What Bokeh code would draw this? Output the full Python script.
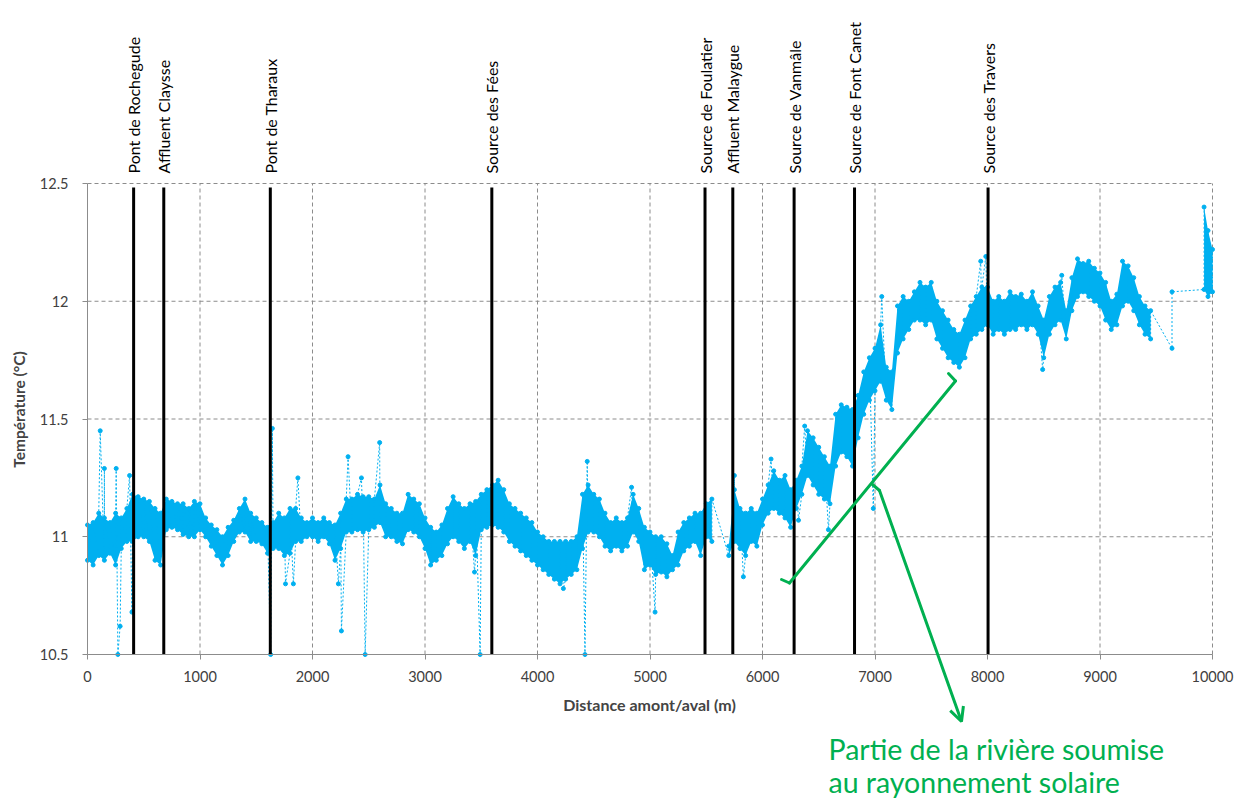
from math import pi
from bokeh.plotting import figure
from bokeh.models import (Range1d, Label, Arrow, OpenHead, FixedTicker,
                          NumeralTickFormatter, LinearAxis)
from bokeh.embed import file_html
from bokeh.resources import INLINE

# ---------------- data ----------------
# sampling positions along the river (m); gaps where no measurement exists
dist = (list(range(0, 5551, 50)) + list(range(5700, 9451, 50))
        + [9640, 9925, 9960, 10000])

# lower edge of the temperature band at each position (deg C)
temp_lo = [
    10.90, 10.88, 10.92, 10.90, 10.93, 10.88, 10.95, 10.98, 10.98, 11.00,
    11.00, 10.98, 10.90, 10.88, 11.03, 11.04, 11.03, 11.01, 11.00, 11.00,
    11.03, 11.00, 10.96, 10.92, 10.88, 10.92, 10.98, 11.02, 11.02, 10.98,
    10.98, 10.97, 10.93, 10.95, 10.95, 10.92, 10.93, 10.98, 10.98, 11.00,
    11.00, 10.98, 11.00, 10.97, 10.90, 10.95, 11.02, 11.02, 11.03, 11.02,
    11.03, 11.04, 11.06, 11.00, 11.00, 10.98, 10.97, 11.03, 11.02, 11.00,
    10.95, 10.88, 10.90, 10.92, 10.97, 11.00, 10.98, 10.95, 10.98, 10.92,
    11.03, 11.04, 11.05, 11.04, 11.02, 10.98, 10.96, 10.94, 10.92, 10.90,
    10.88, 10.86, 10.84, 10.82, 10.80, 10.82, 10.84, 10.86, 10.95, 11.02,
    11.02, 11.00, 10.96, 10.94, 10.96, 10.94, 10.96, 11.02, 10.98, 10.86,
    10.88, 10.84, 10.85, 10.83, 10.86, 10.88, 10.94, 10.96, 10.98, 10.92,
    11.00, 10.98,
    10.92, 10.98, 10.95, 10.92, 10.98, 10.96, 11.05, 11.10, 11.12, 11.10,
    11.08, 11.04, 11.12, 11.18, 11.26, 11.22, 11.18, 11.16, 11.14, 11.30,
    11.36, 11.34, 11.30, 11.42, 11.52, 11.58, 11.62, 11.66, 11.58, 11.54,
    11.78, 11.84, 11.88, 11.92, 11.92, 11.90, 11.92, 11.84, 11.80, 11.76,
    11.74, 11.72, 11.76, 11.84, 11.86, 11.88, 11.90, 11.86, 11.88, 11.86,
    11.88, 11.88, 11.90, 11.88, 11.90, 11.86, 11.76, 11.86, 11.90, 11.92,
    11.84, 11.96, 12.02, 12.04, 12.02, 12.00, 11.98, 11.92, 11.88, 11.90,
    11.98, 12.00, 11.96, 11.90, 11.86, 11.84,
    11.80, 12.05, 12.02, 12.04,
]

# upper edge of the temperature band at each position (deg C)
temp_hi = [
    11.05, 11.06, 11.10, 11.08, 11.06, 11.10, 11.08, 11.12, 11.18, 11.17,
    11.16, 11.15, 11.12, 11.10, 11.16, 11.15, 11.14, 11.14, 11.12, 11.15,
    11.14, 11.08, 11.05, 11.03, 11.00, 11.04, 11.07, 11.12, 11.16, 11.10,
    11.08, 11.06, 11.04, 11.06, 11.10, 11.08, 11.12, 11.12, 11.08, 11.06,
    11.08, 11.06, 11.08, 11.06, 11.05, 11.10, 11.16, 11.16, 11.18, 11.17,
    11.17, 11.16, 11.22, 11.14, 11.12, 11.10, 11.10, 11.18, 11.16, 11.14,
    11.08, 11.04, 11.02, 11.05, 11.12, 11.17, 11.14, 11.12, 11.14, 11.15,
    11.18, 11.20, 11.22, 11.24, 11.20, 11.14, 11.12, 11.10, 11.08, 11.06,
    11.02, 11.00, 10.98, 10.98, 10.98, 10.98, 10.98, 11.00, 11.18, 11.22,
    11.18, 11.16, 11.10, 11.06, 11.08, 11.06, 11.08, 11.18, 11.12, 11.04,
    11.02, 11.00, 11.00, 10.97, 10.92, 11.02, 11.06, 11.08, 11.10, 11.10,
    11.14, 11.16,
    10.96, 11.20, 11.12, 11.10, 11.12, 11.10, 11.16, 11.22, 11.28, 11.24,
    11.26, 11.20, 11.24, 11.30, 11.45, 11.42, 11.38, 11.34, 11.30, 11.52,
    11.56, 11.55, 11.54, 11.60, 11.70, 11.76, 11.80, 11.90, 11.72, 11.70,
    11.98, 12.02, 12.00, 12.04, 12.08, 12.06, 12.08, 12.00, 11.96, 11.92,
    11.88, 11.86, 11.92, 11.98, 12.02, 12.06, 12.06, 12.00, 12.02, 12.00,
    12.04, 12.02, 12.03, 12.00, 12.04, 11.98, 11.92, 12.02, 12.06, 12.08,
    11.96, 12.10, 12.18, 12.16, 12.17, 12.14, 12.12, 12.08, 12.00, 12.03,
    12.17, 12.15, 12.10, 12.02, 11.98, 11.96,
    12.04, 12.40, 12.30, 12.22,
]

# isolated excursions (spikes) of the series
spike_d = [113, 150, 255, 270, 290, 374, 395, 1628, 1643, 1760,
           1830, 1870, 2230, 2257, 2316, 2435, 2468, 2597, 3440, 3490,
           4230, 4422, 4442, 4836, 5045, 5750, 5830, 6076, 6320, 6375,
           6586, 6985, 7060, 7940, 7985, 8490, 8660]
spike_t = [11.45, 11.29, 11.29, 10.50, 10.62, 11.26, 10.68, 10.50, 11.46, 10.80,
           10.80, 11.25, 10.80, 10.60, 11.34, 11.25, 10.50, 11.40, 10.85, 10.50,
           10.78, 10.50, 11.32, 11.21, 10.68, 11.26, 10.83, 11.33, 11.07, 11.47,
           11.03, 11.12, 12.02, 12.17, 12.19, 11.71, 12.11]

# landmarks along the river
site_d = [410, 678, 1625, 3594, 5489, 5736, 6281, 6818, 8005]
site_names = ["Pont de Rochegude", "Affluent Claysse", "Pont de Tharaux",
              "Source des Fées", "Source de Foulatier", "Affluent Malaygue",
              "Source de Vanmâle", "Source de Font Canet", "Source des Travers"]

x_ticks = list(range(0, 10001, 1000))
y_ticks = [10.5, 11, 11.5, 12, 12.5]
x_min, x_max = 0, 10000
y_min, y_max = 10.5, 12.5

x_title = "Distance amont/aval (m)"
y_title = "Température (°C)"
note_text = ["Partie de la rivière soumise", "au rayonnement solaire"]

# ---------------- geometry / styles ----------------
BLUE = "#00B0F0"
GREEN = "#00B050"
GRID = "#8C8C8C"
FONT = "Lato"

PX_PER_M = 0.1125          # horizontal scale of the reference
PX_PER_DEG = 235.5         # vertical scale of the reference
CANVAS_X, CANVAS_Y = 1, 1  # where the canvas lands on the page
X0_PAGE, YTOP_PAGE = 88, 184
FRAME_TOP_PAGE = 175       # frame starts a little above 12.5 (room for its label)
FRAME_W = 1234
FRAME_H = 801 - FRAME_TOP_PAGE

def dx(px):   # page x -> distance
    return (px - X0_PAGE) / PX_PER_M

def dy(py):   # page y -> temperature
    return y_max - (py - YTOP_PAGE) / PX_PER_DEG

x_lo = dx(CANVAS_X)

p = figure(frame_width=FRAME_W, frame_height=FRAME_H,
           x_range=Range1d(x_lo, x_lo + FRAME_W / PX_PER_M),
           y_range=Range1d(dy(FRAME_TOP_PAGE + FRAME_H), dy(FRAME_TOP_PAGE)),
           output_backend="svg", toolbar_location=None,
           min_border_left=0, min_border_right=0,
           min_border_top=FRAME_TOP_PAGE - CANVAS_Y, min_border_bottom=0)
p.outline_line_color = None
p.background_fill_color = "white"

for ax in (p.xaxis[0], p.yaxis[0]):
    ax.axis_line_color = GRID
    ax.major_tick_line_color = GRID
    ax.major_tick_out = 5
    ax.major_tick_in = 0
    ax.minor_tick_line_color = None
    ax.major_label_text_font = FONT
    ax.major_label_text_font_size = "14.5px"
    ax.major_label_text_color = "#404040"

p.xaxis.ticker = FixedTicker(ticks=x_ticks)
p.xaxis.fixed_location = y_min
p.xaxis.bounds = (x_min, x_max)
p.xaxis.major_label_standoff = 11

p.yaxis.ticker = FixedTicker(ticks=y_ticks)
p.yaxis.fixed_location = x_min
p.yaxis.bounds = (y_min, y_max)
p.yaxis.formatter = NumeralTickFormatter(format="0.[0]")
p.yaxis.major_label_standoff = 14

# grid restricted to the data area
p.xgrid.visible = False
p.ygrid.visible = False
vx = [t for t in x_ticks if t > x_min]
p.segment(x0=vx, y0=[y_min] * len(vx), x1=vx, y1=[y_max] * len(vx),
          line_color=GRID, line_width=1, line_dash="4 3")
hy = [t for t in y_ticks if t > y_min]
p.segment(x0=[x_min] * len(hy), y0=hy, x1=[x_max] * len(hy), y1=hy,
          line_color=GRID, line_width=1, line_dash="4 3")

# landmark names as an axis on top
top = LinearAxis(ticker=FixedTicker(ticks=site_d),
                 major_label_overrides={d: n for d, n in zip(site_d, site_names)},
                 major_label_orientation=pi / 2,
                 axis_line_color=None, major_tick_line_color=None,
                 minor_tick_line_color=None, major_tick_out=0, major_tick_in=0,
                 major_label_standoff=1,
                 major_label_text_font=FONT, major_label_text_font_size="16px",
                 major_label_text_color="black")
p.add_layout(top, "above")

# axis titles
p.add_layout(Label(x=dx(650), y=dy(705), text=x_title, text_font=FONT,
                   text_font_style="bold", text_font_size="16px",
                   text_align="center", text_baseline="middle"))
p.add_layout(Label(x=dx(19), y=dy(410), text=y_title, text_font=FONT,
                   text_font_style="bold", text_font_size="15.5px", angle=pi / 2,
                   text_align="center", text_baseline="middle"))

# ---------------- band (filled between lower / upper edges) ----------------
seg_start = 0
for i in range(1, len(dist) + 1):
    if i == len(dist) or dist[i] - dist[i - 1] > 60:
        if i - seg_start > 1:
            p.varea(x=dist[seg_start:i], y1=temp_lo[seg_start:i],
                    y2=temp_hi[seg_start:i], fill_color=BLUE, fill_alpha=1.0)
        seg_start = i

# ---------------- measured series: dots joined by a dashed line ----------------
pts = []
for d, lo, hi in zip(dist, temp_lo, temp_hi):
    pts.append((d, 0, lo))
    pts.append((d, 1, hi))
for d, t in zip(spike_d, spike_t):
    pts.append((d, 0, t))
pts.sort(key=lambda r: (r[0], r[1]))
xs = [r[0] for r in pts]
ys = [r[2] for r in pts]
p.line(xs, ys, line_color=BLUE, line_width=1, line_dash="2 2")
p.scatter(xs, ys, size=4, fill_color=BLUE, line_color=BLUE)

# ---------------- landmark lines ----------------
p.segment(x0=site_d, y0=[y_min] * len(site_d), x1=site_d,
          y1=[y_max - 4 / PX_PER_DEG] * len(site_d),
          line_color="black", line_width=3)

# ---------------- green annotation ----------------
def seg(x0, y0, x1, y1, head=None):
    p.add_layout(Arrow(x_start=dx(x0), y_start=dy(y0), x_end=dx(x1), y_end=dy(y1),
                       end=head, line_color=GREEN, line_width=3,
                       line_join="round", line_cap="round"))

seg(782, 580, 790, 583.5)
seg(790, 583.5, 956, 381.5)
seg(956, 381.5, 949, 374)
seg(873, 485, 880, 491)
seg(880, 491, 962, 722, OpenHead(size=14, line_color=GREEN, line_width=3))

for i, txt in enumerate(note_text):
    p.add_layout(Label(x=dx(829), y=dy(749 + 33 * i), text=txt, text_font=FONT,
                       text_font_size="28.5px", text_color=GREEN,
                       text_align="left", text_baseline="middle"))

open("out.html", "w").write(file_html(p, INLINE))
